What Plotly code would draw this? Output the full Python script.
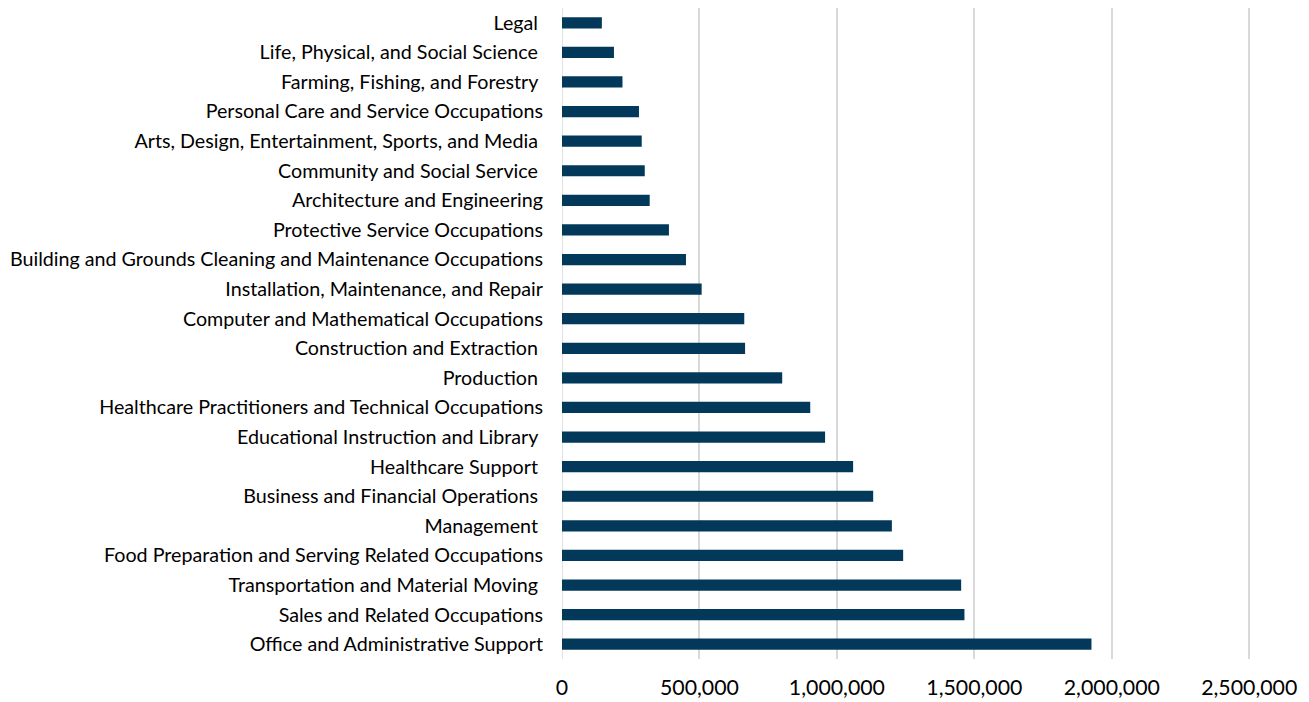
import plotly.graph_objects as go

NB = "\u00a0"
categories = [
    "Legal" + NB,
    "Life, Physical, and Social Science" + NB,
    "Farming, Fishing, and Forestry" + NB,
    "Personal Care and Service Occupations",
    "Arts, Design, Entertainment, Sports, and Media" + NB,
    "Community and Social Service" + NB,
    "Architecture and Engineering",
    "Protective Service Occupations",
    "Building and Grounds Cleaning and Maintenance Occupations",
    "Installation, Maintenance, and Repair",
    "Computer and Mathematical Occupations",
    "Construction and Extraction" + NB,
    "Production" + NB,
    "Healthcare Practitioners and Technical Occupations",
    "Educational Instruction and Library" + NB,
    "Healthcare Support" + NB,
    "Business and Financial Operations" + NB,
    "Management" + NB,
    "Food Preparation and Serving Related Occupations",
    "Transportation and Material Moving" + NB,
    "Sales and Related Occupations",
    "Office and Administrative Support",
]
values = [
    145000, 189000, 220000, 280000, 290000, 301000, 319000, 389000,
    451000, 508000, 663000, 666000, 801000, 903000, 957000, 1059000,
    1132000, 1200000, 1241000, 1452000, 1464000, 1926000,
]
x_ticks = [0, 500000, 1000000, 1500000, 2000000, 2500000]
x_tick_labels = ["0", "500,000", "1,000,000", "1,500,000", "2,000,000", "2,500,000"]

fig = go.Figure(
    go.Bar(
        x=values,
        y=categories,
        orientation="h",
        marker=dict(color="#02395A", line=dict(width=0)),
    )
)

fig.update_layout(
    width=1309,
    height=702,
    margin=dict(l=562, r=57, t=8, b=43, autoexpand=False),
    paper_bgcolor="white",
    plot_bgcolor="white",
    bargap=0.62,
    showlegend=False,
    font=dict(family="Lato, Carlito, Calibri, sans-serif", color="#000000"),
)
fig.update_xaxes(
    range=[0, 2510000],
    tickvals=x_ticks,
    ticktext=x_tick_labels,
    showgrid=True,
    gridcolor="#D9D9D9",
    gridwidth=1.5,
    zeroline=False,
    showline=False,
    tickfont=dict(size=21.3),
    ticklabelstandoff=14,
    automargin=False,
)
fig.update_yaxes(
    categoryorder="array",
    categoryarray=categories,
    autorange="reversed",
    showgrid=False,
    zeroline=False,
    showline=False,
    tickfont=dict(size=19.7),
    ticklabelstandoff=18,
    automargin=False,
)
# zero line at left
fig.add_vline(x=0, line=dict(color="#D9D9D9", width=1.5), layer="below")

fig.write_html("out.html")
